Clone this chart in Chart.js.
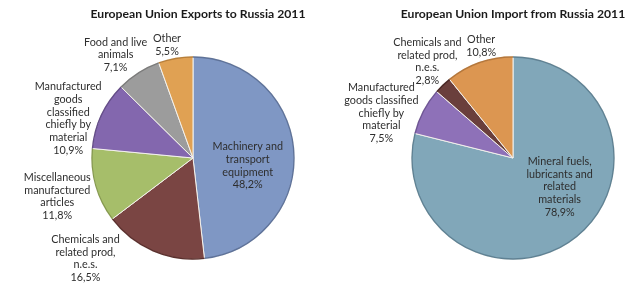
<!DOCTYPE html>
<html>
<head>
<meta charset="utf-8">
<script src="https://cdn.jsdelivr.net/npm/chart.js@4"></script>
<style>
    body { margin: 0; background: #fff; }
    .wrap { display: flex; width: 640px; height: 287px; }
    .box { position: relative; width: 320px; height: 287px; }
</style>
</head>
<body>
<div class="wrap">
    <div class="box"><canvas id="exportsChart"></canvas></div>
    <div class="box"><canvas id="importsChart"></canvas></div>
</div>
<script>
// EU exports to Russia 2011 (%)
const exportTitle = 'European Union Exports to Russia 2011';
const exportCategories = [
    'Machinery and\ntransport\nequipment',
    'Chemicals and\nrelated prod,\nn.e.s.',
    'Miscellaneous\nmanufactured\narticles',
    'Manufactured\ngoods\nclassified\nchiefly by\nmaterial',
    'Food and live\nanimals',
    'Other'
];
const exportValues = [48.2, 16.5, 11.8, 10.9, 7.1, 5.5];

// EU imports from Russia 2011 (%)
const importTitle = 'European Union Import from Russia 2011';
const importCategories = [
    'Mineral fuels,\nlubricants and\nrelated\nmaterials',
    'Manufactured\ngoods classified\nchiefly by\nmaterial',
    'Chemicals and\nrelated prod,\nn.e.s.',
    'Other'
];
const importValues = [78.9, 7.5, 2.8, 10.8];

// colores
const exportColors = ['#7f97c4', '#7a4543', '#a6be6a', '#8367ae', '#9c9c9c', '#e0a153'];
const exportEdges  = ['#5e7299', '#5a302e', '#84984e', '#634c88', '#7a7a7a', '#b87f3a'];
const importColors = ['#81a7b9', '#8e71b8', '#6a3f3c', '#dc9651'];
const importEdges  = ['#5f8193', '#6d5494', '#4a2826', '#b5773b'];

// label placement: [distance / radius, turn from slice middle in degrees]
const exportLabelPos = [[0.545, 11.5], [1.45, 23.7], [1.39, 0], [1.29, -7.4], [1.27, -4.3], [1.14, -3.1]];
const importLabelPos = [[0.54, -20.3], [1.37, -8.7], [1.27, 2.3], [1.15, 3.6]];

const FONT = 'Lato, "Open Sans", sans-serif';

function pct(v) {
    return v.toFixed(1).replace('.', ',') + '%';
}

const pieLabels = {
    id: 'pieLabels',
    afterDatasetsDraw(chart, args, opts) {
        const ctx = chart.ctx;
        const meta = chart.getDatasetMeta(0);
        const ds = chart.data.datasets[0];
        ctx.save();

        // borde exterior más oscuro
        meta.data.forEach((arc, i) => {
            const p = arc.getProps(['x', 'y', 'startAngle', 'endAngle', 'outerRadius'], true);
            ctx.beginPath();
            ctx.arc(p.x, p.y, p.outerRadius - 0.5, p.startAngle, p.endAngle);
            ctx.strokeStyle = opts.edges[i];
            ctx.lineWidth = 1.3;
            ctx.stroke();
        });

        ctx.fillStyle = '#2e2e2e';
        ctx.font = '10.8px ' + FONT;
        ctx.textAlign = 'center';
        ctx.textBaseline = 'middle';
        const lh = 12.7;
        meta.data.forEach((arc, i) => {
            const p = arc.getProps(['x', 'y', 'startAngle', 'endAngle', 'outerRadius'], true);
            const [dist, turn] = opts.pos[i];
            const mid = (p.startAngle + p.endAngle) / 2 + turn * Math.PI / 180;
            const lx = p.x + Math.cos(mid) * p.outerRadius * dist;
            const ly = p.y + Math.sin(mid) * p.outerRadius * dist;
            const lines = chart.data.labels[i].split('\n').concat([pct(ds.data[i])]);
            const y0 = ly - (lines.length - 1) * lh / 2;
            lines.forEach((t, k) => ctx.fillText(t, lx, y0 + k * lh));
        });

        // título
        const c = meta.data[0];
        ctx.fillStyle = '#1a1a1a';
        ctx.font = 'bold 12.2px ' + FONT;
        ctx.fillText(opts.title, c.x + opts.titleShift, 14);
        ctx.restore();
    }
};

function makePie(id, title, labels, values, colors, edges, pos, titleShift) {
    return new Chart(document.getElementById(id), {
        type: 'pie',
        data: {
            labels: labels,
            datasets: [{
                data: values,
                backgroundColor: colors,
                borderColor: '#f3f1ec',
                borderWidth: 1
            }]
        },
        options: {
            responsive: true,
            maintainAspectRatio: false,
            animation: false,
            layout: { padding: { left: 91, right: 25, top: 56, bottom: 27 } },
            plugins: {
                legend: { display: false },
                tooltip: { enabled: false },
                pieLabels: { title: title, edges: edges, pos: pos, titleShift: titleShift }
            }
        },
        plugins: [pieLabels]
    });
}

makePie('exportsChart', exportTitle, exportCategories, exportValues, exportColors, exportEdges, exportLabelPos, 5);
makePie('importsChart', importTitle, importCategories, importValues, importColors, importEdges, importLabelPos, 0);
</script>
</body>
</html>
